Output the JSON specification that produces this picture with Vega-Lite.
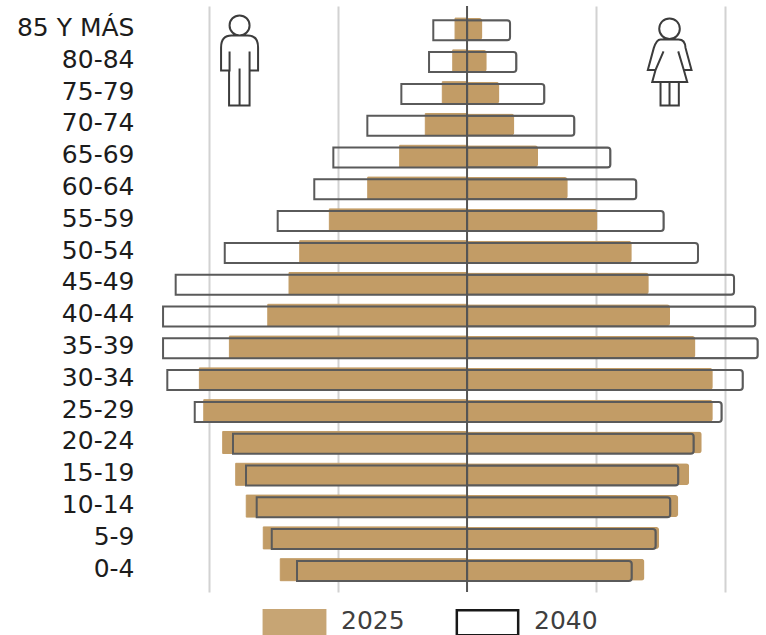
{"$schema":"https://vega.github.io/schema/vega-lite/v6.json","width":626,"height":586,"autosize":{"type":"none"},"padding":{"left":140,"top":6,"right":0,"bottom":43},"background":"white","view":{"stroke":null},
"datasets":{"pop":[
{"age":"85 Y MÁS","sex":"H","year":"2025","v":-9.3},{"age":"85 Y MÁS","sex":"M","year":"2025","v":11.9},{"age":"85 Y MÁS","sex":"H","year":"2040","v":-26.2},{"age":"85 Y MÁS","sex":"M","year":"2040","v":33.4},
{"age":"80-84","sex":"H","year":"2025","v":-11.1},{"age":"80-84","sex":"M","year":"2025","v":15.3},{"age":"80-84","sex":"H","year":"2040","v":-29.5},{"age":"80-84","sex":"M","year":"2040","v":38.3},
{"age":"75-79","sex":"H","year":"2025","v":-19.2},{"age":"75-79","sex":"M","year":"2025","v":25.1},{"age":"75-79","sex":"H","year":"2040","v":-51},{"age":"75-79","sex":"M","year":"2040","v":60},
{"age":"70-74","sex":"H","year":"2025","v":-32.4},{"age":"70-74","sex":"M","year":"2025","v":36.7},{"age":"70-74","sex":"H","year":"2040","v":-77.4},{"age":"70-74","sex":"M","year":"2040","v":83.3},
{"age":"65-69","sex":"H","year":"2025","v":-52.3},{"age":"65-69","sex":"M","year":"2025","v":55.1},{"age":"65-69","sex":"H","year":"2040","v":-103.8},{"age":"65-69","sex":"M","year":"2040","v":111.3},
{"age":"60-64","sex":"H","year":"2025","v":-77.1},{"age":"60-64","sex":"M","year":"2025","v":78.2},{"age":"60-64","sex":"H","year":"2040","v":-118.6},{"age":"60-64","sex":"M","year":"2040","v":131.4},
{"age":"55-59","sex":"H","year":"2025","v":-106.9},{"age":"55-59","sex":"M","year":"2025","v":101.2},{"age":"55-59","sex":"H","year":"2040","v":-147},{"age":"55-59","sex":"M","year":"2040","v":152.7},
{"age":"50-54","sex":"H","year":"2025","v":-129.9},{"age":"50-54","sex":"M","year":"2025","v":127.9},{"age":"50-54","sex":"H","year":"2040","v":-188.1},{"age":"50-54","sex":"M","year":"2040","v":179.3},
{"age":"45-49","sex":"H","year":"2025","v":-138.2},{"age":"45-49","sex":"M","year":"2025","v":141.1},{"age":"45-49","sex":"H","year":"2040","v":-226.2},{"age":"45-49","sex":"M","year":"2040","v":207.3},
{"age":"40-44","sex":"H","year":"2025","v":-154.7},{"age":"40-44","sex":"M","year":"2025","v":157.6},{"age":"40-44","sex":"H","year":"2040","v":-236},{"age":"40-44","sex":"M","year":"2040","v":223.8},
{"age":"35-39","sex":"H","year":"2025","v":-184.5},{"age":"35-39","sex":"M","year":"2025","v":177.3},{"age":"35-39","sex":"H","year":"2040","v":-236},{"age":"35-39","sex":"M","year":"2040","v":225.7},
{"age":"30-34","sex":"H","year":"2025","v":-207.8},{"age":"30-34","sex":"M","year":"2025","v":190.8},{"age":"30-34","sex":"H","year":"2040","v":-232.7},{"age":"30-34","sex":"M","year":"2040","v":214.1},
{"age":"25-29","sex":"H","year":"2025","v":-204.4},{"age":"25-29","sex":"M","year":"2025","v":190.8},{"age":"25-29","sex":"H","year":"2040","v":-211.4},{"age":"25-29","sex":"M","year":"2040","v":197.7},
{"age":"20-24","sex":"H","year":"2025","v":-189.7},{"age":"20-24","sex":"M","year":"2025","v":182.2},{"age":"20-24","sex":"H","year":"2040","v":-181.7},{"age":"20-24","sex":"M","year":"2040","v":176},
{"age":"15-19","sex":"H","year":"2025","v":-179.6},{"age":"15-19","sex":"M","year":"2025","v":172.4},{"age":"15-19","sex":"H","year":"2040","v":-171.6},{"age":"15-19","sex":"M","year":"2040","v":164},
{"age":"10-14","sex":"H","year":"2025","v":-171.4},{"age":"10-14","sex":"M","year":"2025","v":164},{"age":"10-14","sex":"H","year":"2040","v":-163.3},{"age":"10-14","sex":"M","year":"2040","v":157.8},
{"age":"5-9","sex":"H","year":"2025","v":-158.2},{"age":"5-9","sex":"M","year":"2025","v":149.1},{"age":"5-9","sex":"H","year":"2040","v":-151.6},{"age":"5-9","sex":"M","year":"2040","v":146.5},
{"age":"0-4","sex":"H","year":"2025","v":-145},{"age":"0-4","sex":"M","year":"2025","v":137.7},{"age":"0-4","sex":"H","year":"2040","v":-132},{"age":"0-4","sex":"M","year":"2040","v":127.9}
]},
"data":{"name":"pop"},
"encoding":{
"y":{"field":"age","type":"nominal","sort":["85 Y MÁS","80-84","75-79","70-74","65-69","60-64","55-59","50-54","45-49","40-44","35-39","30-34","25-29","20-24","15-19","10-14","5-9","0-4"],"scale":{"paddingInner":0,"paddingOuter":0.2138,"align":0.566},"title":null,"axis":{"domain":false,"ticks":false,"labelFont":"DejaVu Sans","labelFontSize":25,"labelColor":"#1c1c1c","labelPadding":6,"labelOffset":-1.5}},
"x":{"field":"v","type":"quantitative","title":null,"scale":{"domain":[-253.9,232.1],"nice":false,"zero":false},"axis":{"values":[-200,-100,100,200],"labels":false,"ticks":false,"domain":false,"grid":true,"gridColor":"#d2d2d2","gridWidth":2}}
},
"layer":[
{"transform":[{"filter":"datum.year=='2025' && datum.sex=='H'"}],
 "mark":{"type":"bar","size":22,"yOffset":-0.5},
 "encoding":{
  "fill":{"field":"year","type":"nominal","scale":{"domain":["2025","2040"],"range":["#c29c66","#ffffff"]},"legend":{"title":null,"orient":"none","legendX":140,"legendY":600.5,"direction":"horizontal","symbolType":"M-2.36,-0.845H2.36V1.075H-2.36Z","symbolSize":676,"symbolStrokeWidth":2.5,"symbolOpacity":0.9,"labelFont":"DejaVu Sans","labelFontSize":25,"labelColor":"#3f3f3f","labelOffset":32,"columnPadding":46}},
  "stroke":{"field":"year","type":"nominal","scale":{"domain":["2025","2040"],"range":["#c29c66","#000000"]}}
 }},
{"transform":[{"filter":"datum.year=='2025' && datum.sex=='M'"}],
 "mark":{"type":"bar","size":22,"yOffset":-0.5,"fill":"#c29c66","cornerRadiusTopRight":3,"cornerRadiusBottomRight":3}},
{"transform":[{"filter":"datum.year=='2040' && datum.sex=='H'"}],
 "mark":{"type":"bar","size":20,"yOffset":0.7,"fillOpacity":0,"stroke":"#5a5a5a","strokeWidth":2}},
{"transform":[{"filter":"datum.year=='2040' && datum.sex=='M'"}],
 "mark":{"type":"bar","size":20,"yOffset":0.7,"fillOpacity":0,"stroke":"#5a5a5a","strokeWidth":2,"cornerRadiusTopRight":3,"cornerRadiusBottomRight":3}},
{"data":{"values":[{"v":0}]},"mark":{"type":"rule","color":"#555555","strokeWidth":2},"encoding":{"y":{"value":0},"y2":{"value":586}}},
{"data":{"values":[{"v":-176.6,"age":"80-84"}]},"mark":{"type":"point","size":4,"filled":false,"stroke":"#3c3c3c","strokeWidth":2,"opacity":1,"yOffset":-1,"shape":"M-10,-35a10,10 0 1,0 20,0a10,10 0 1,0 -20,0ZM-10,-9L-10,10L-18.5,10L-18.5,-13Q-18.5,-25 -8,-25L8,-25Q18.5,-25 18.5,-13L18.5,10L10,10L10,-9M-10.5,10L-10.5,45L10,45L10,10M0,8L0,45"}},
{"data":{"values":[{"v":157.2,"age":"80-84"}]},"mark":{"type":"point","size":4,"filled":false,"stroke":"#3c3c3c","strokeWidth":2,"opacity":1,"yOffset":-1,"shape":"M-10.3,-31.7a10.3,10.3 0 1,0 20.6,0a10.3,10.3 0 1,0 -20.6,0ZM-6,-9L-14,9.5L-21.7,9.5L-15.7,-12.5Q-13,-21 -9,-21L9,-21Q15.7,-21 16,-12.5L22,9.7L14.3,9.7L8.7,-9M-14,9.5L-17.3,21.7L17.7,21.7L14.3,9.7M-9,21.7L-9,45L9.3,45L9.3,21.7M0,21.7L0,45"}}
]}
